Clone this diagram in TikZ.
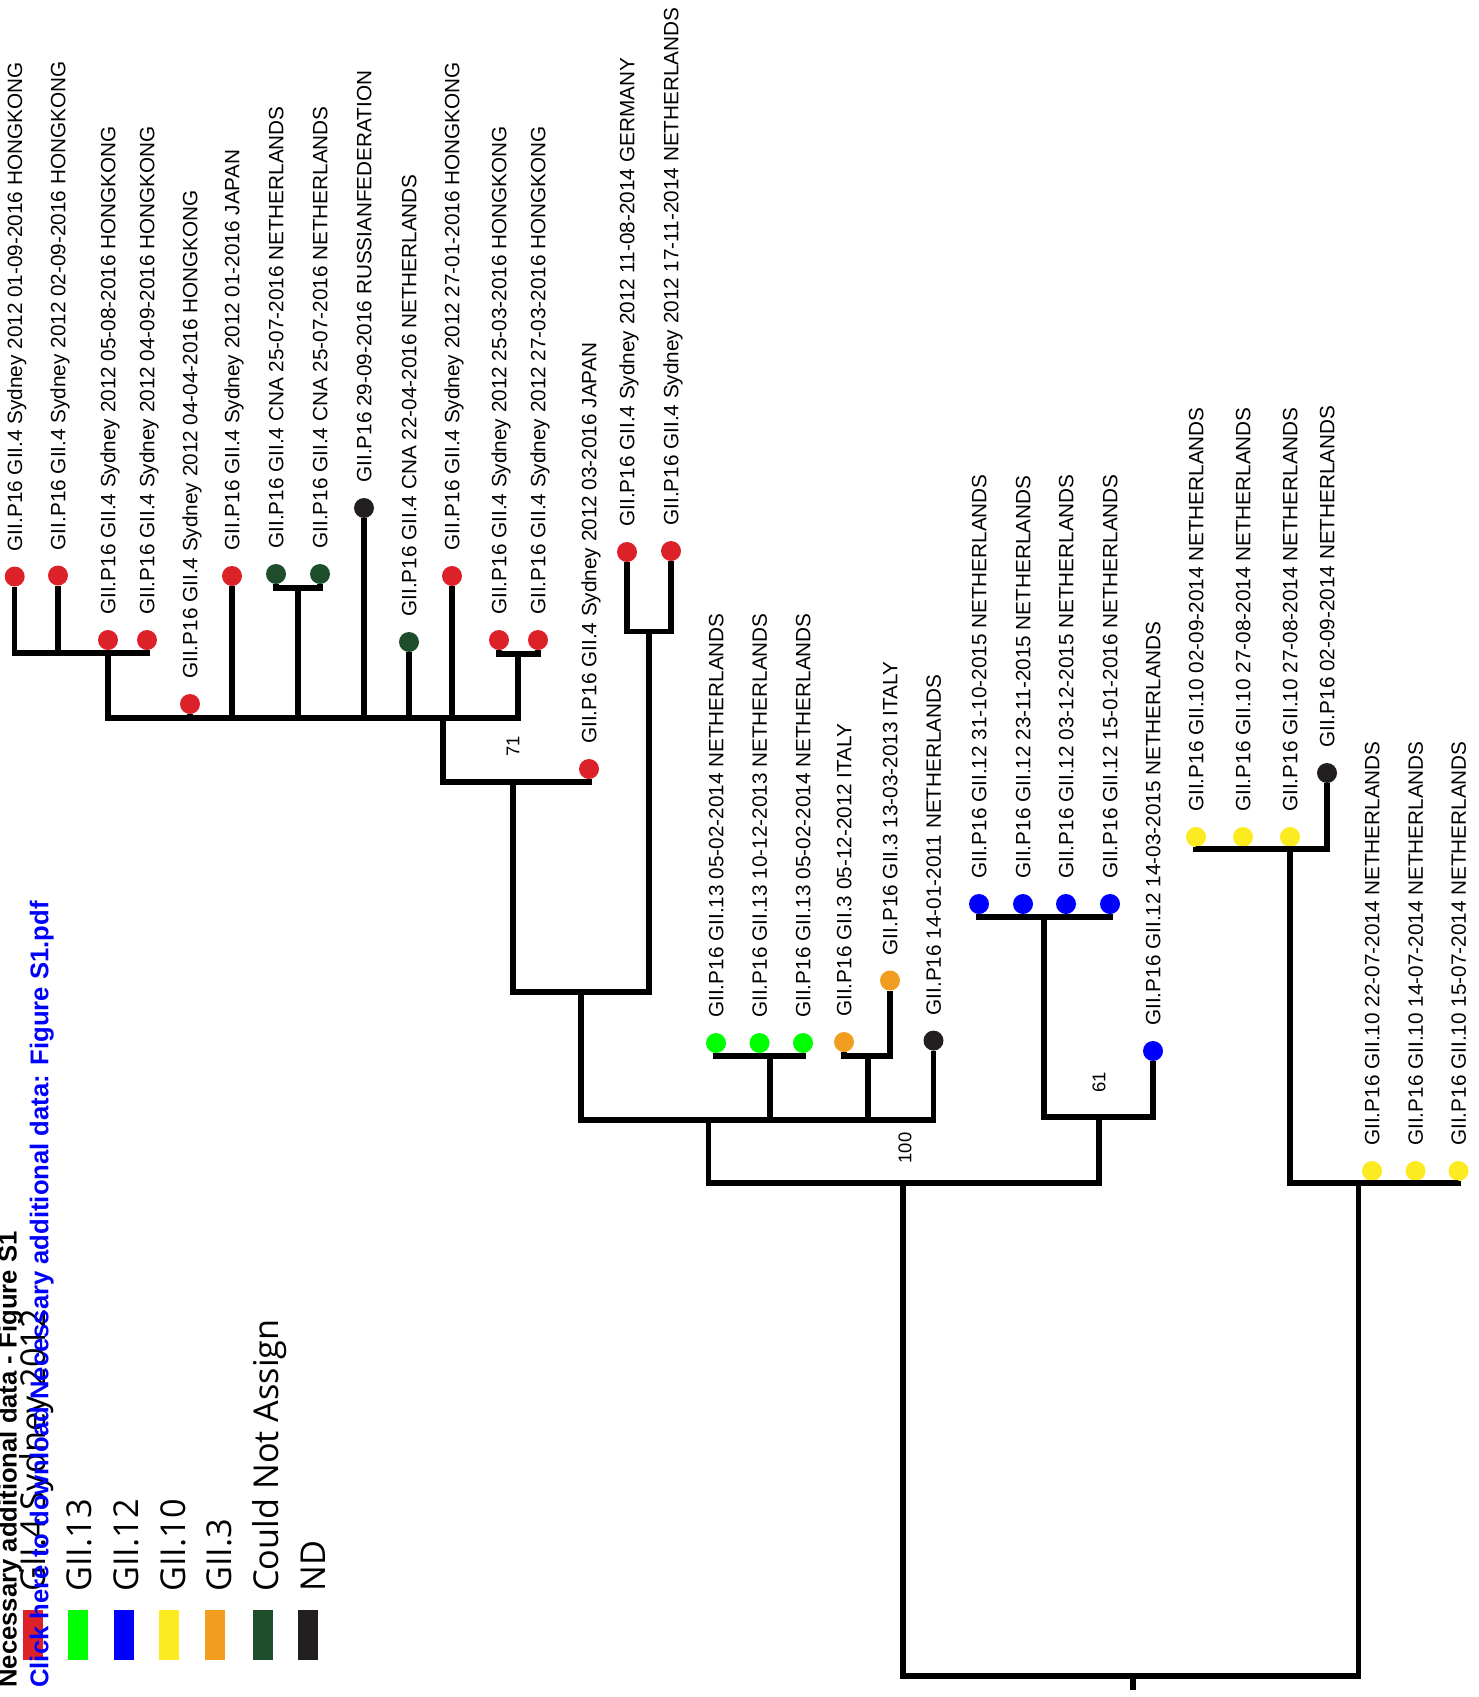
\documentclass[tikz,border=0pt]{standalone}
\usepackage{fontspec}
\setmainfont{Liberation Sans}
\newfontfamily\keyfont{Open Sans}
\usepackage{xcolor}
\usetikzlibrary{calc}

\definecolor{tipred}{RGB}{221,33,40}
\definecolor{tipgreen}{RGB}{0,255,0}
\definecolor{tipblue}{RGB}{0,0,255}
\definecolor{tipyellow}{RGB}{253,235,33}
\definecolor{tiporange}{RGB}{241,158,32}
\definecolor{tipdkgreen}{RGB}{29,77,42}
\definecolor{tipblack}{RGB}{35,31,32}

\tikzset{
    leafdot/.style={circle, inner sep=0pt, minimum size=0.4cm},
    tiplabel/.style={rotate=90, anchor=base west, inner sep=0pt, font=\fontsize{11.8}{13}\selectfont},
    branch/.style={line width=3pt},
    boot/.style={rotate=90, inner sep=0pt, font=\fontsize{10.5}{12}\selectfont},
    keybox/.style={minimum width=0.4cm, minimum height=1cm, inner sep=0pt},
    keylabel/.style={rotate=90, anchor=base west, inner sep=0pt, font=\keyfont\fontsize{19.5}{22}\selectfont}
}

\begin{document}
\begin{tikzpicture}[x=0.02cm, y=-0.02cm]
    \useasboundingbox (0,0) rectangle (1479,1697);
    % tips
    \foreach \x/\y/\c/\t [count=\i] in {
        14.7/576.5/tipred/GII.P16 GII.4 Sydney 2012 01-09-2016 HONGKONG,
        58/575.5/tipred/GII.P16 GII.4 Sydney 2012 02-09-2016 HONGKONG,
        108/640/tipred/GII.P16 GII.4 Sydney 2012 05-08-2016 HONGKONG,
        147/640/tipred/GII.P16 GII.4 Sydney 2012 04-09-2016 HONGKONG,
        190/704/tipred/GII.P16 GII.4 Sydney 2012 04-04-2016 HONGKONG,
        232/576/tipred/GII.P16 GII.4 Sydney 2012 01-2016 JAPAN,
        276/574/tipdkgreen/GII.P16 GII.4 CNA 25-07-2016 NETHERLANDS,
        320/574/tipdkgreen/GII.P16 GII.4 CNA 25-07-2016 NETHERLANDS,
        364/508/tipblack/GII.P16 29-09-2016 RUSSIANFEDERATION,
        409/642/tipdkgreen/GII.P16 GII.4 CNA 22-04-2016 NETHERLANDS,
        452/576/tipred/GII.P16 GII.4 Sydney 2012 27-01-2016 HONGKONG,
        499/640/tipred/GII.P16 GII.4 Sydney 2012 25-03-2016 HONGKONG,
        538/640/tipred/GII.P16 GII.4 Sydney 2012 27-03-2016 HONGKONG,
        589/769/tipred/GII.P16 GII.4 Sydney 2012 03-2016 JAPAN,
        627/552/tipred/GII.P16 GII.4 Sydney 2012 11-08-2014 GERMANY,
        671/551/tipred/GII.P16 GII.4 Sydney 2012 17-11-2014 NETHERLANDS,
        716/1043/tipgreen/GII.P16 GII.13 05-02-2014 NETHERLANDS,
        759.5/1043/tipgreen/GII.P16 GII.13 10-12-2013 NETHERLANDS,
        803/1043/tipgreen/GII.P16 GII.13 05-02-2014 NETHERLANDS,
        844/1042/tiporange/GII.P16 GII.3 05-12-2012 ITALY,
        890/980.5/tiporange/GII.P16 GII.3 13-03-2013 ITALY,
        933.5/1040.6/tipblack/GII.P16 14-01-2011 NETHERLANDS,
        979/904/tipblue/GII.P16 GII.12 31-10-2015 NETHERLANDS,
        1023/904/tipblue/GII.P16 GII.12 23-11-2015 NETHERLANDS,
        1066/904/tipblue/GII.P16 GII.12 03-12-2015 NETHERLANDS,
        1110/904/tipblue/GII.P16 GII.12 15-01-2016 NETHERLANDS,
        1153/1051/tipblue/GII.P16 GII.12 14-03-2015 NETHERLANDS,
        1196/837/tipyellow/GII.P16 GII.10 02-09-2014 NETHERLANDS,
        1243/837/tipyellow/GII.P16 GII.10 27-08-2014 NETHERLANDS,
        1290/837/tipyellow/GII.P16 GII.10 27-08-2014 NETHERLANDS,
        1327/773/tipblack/GII.P16 02-09-2014 NETHERLANDS,
        1372/1171/tipyellow/GII.P16 GII.10 22-07-2014 NETHERLANDS,
        1415.5/1171/tipyellow/GII.P16 GII.10 14-07-2014 NETHERLANDS,
        1458.5/1171/tipyellow/GII.P16 GII.10 15-07-2014 NETHERLANDS}{
        \node[leafdot, fill=\c] (L\i) at (\x,\y) {};
        \node[tiplabel] (T\i) at ($(L\i)+(7.3,-25)$) {\t};
    }
    % internal nodes
    \coordinate (nA) at (108,653);
    \coordinate (nB) at (298,588);
    \coordinate (nC) at (518,654);
    \coordinate (nD) at (443,718);
    \coordinate (n71) at (513,782);
    \coordinate (nE) at (649,631.5);
    \coordinate (nF) at (581,992);
    \coordinate (n13) at (770,1056);
    \coordinate (n3) at (868,1056);
    \coordinate (nG) at (708.6,1120);
    \coordinate (n12) at (1044,917);
    \coordinate (n61) at (1099,1117);
    \coordinate (n100) at (903,1183);
    \coordinate (nH) at (1290,849);
    \coordinate (nI) at (1358.6,1183);
    \coordinate (root) at (1133,1676);
    \coordinate (stub) at (1133,1690);
    % branches
    \foreach \p/\c in {nA/L1.south, nA/L2.south, nA/L3.south, nA/L4.south,
        nB/L7.south, nB/L8.south, nC/L12.south, nC/L13.south,
        nD/nA, nD/L5.south, nD/L6.south, nD/nB, nD/L9.south, nD/L10.south, nD/L11.south, nD/nC,
        n71/nD, n71/L14.south, nE/L15.south, nE/L16.south, nF/n71, nF/nE,
        n13/L17.south, n13/L18.south, n13/L19.south, n3/L20.south, n3/L21.south,
        nG/nF, nG/n13, nG/n3, nG/L22.south,
        n12/L23.south, n12/L24.south, n12/L25.south, n12/L26.south, n61/n12, n61/L27.south,
        n100/nG, n100/n61,
        nH/L28.south, nH/L29.south, nH/L30.south, nH/L31.south,
        nI/nH, nI/L32.south, nI/L33.south, nI/L34.south,
        root/n100, root/nI}
        \draw[branch] (\p) -| (\c);
    \draw[branch] (root) -- (stub);
    % bootstrap values
    \node[boot] (b71) at ($(n71)+(0,-36)$) {71};
    \node[boot] (b100) at ($(n100)+(2,-35)$) {100};
    \node[boot] (b61) at ($(n61)+(0,-35)$) {61};
    % legend
    \node[keybox, fill=tipred] (kred) at (32.7,1635) {};
    \node[keybox, fill=tipgreen] (kgreen) at (78,1635) {};
    \node[keybox, fill=tipblue] (kblue) at (124,1635) {};
    \node[keybox, fill=tipyellow] (kyellow) at (169,1635) {};
    \node[keybox, fill=tiporange] (korange) at (215,1635) {};
    \node[keybox, fill=tipdkgreen] (kdkgreen) at (263,1635) {};
    \node[keybox, fill=tipblack] (kblack) at (308,1635) {};
    \node[keylabel] (lred) at (45,1592) {GII.4 Sydney 2012};
    \node[keylabel] (lgreen) at (91.7,1592) {GII.13};
    \node[keylabel] (lblue) at (138.3,1592) {GII.12};
    \node[keylabel] (lyellow) at (185,1592) {GII.10};
    \node[keylabel] (lorange) at (231.7,1592) {GII.3};
    \node[keylabel] (ldkgreen) at (278,1592) {Could Not Assign};
    \node[keylabel] (lblack) at (325,1592) {ND};
    % header
    \node[rotate=90, anchor=base west, inner sep=0pt, font=\bfseries\fontsize{14.6}{17}\selectfont] (title) at (16.7,1688) {Necessary additional data - Figure S1};
    \node[rotate=90, anchor=base west, inner sep=0pt, text=blue, font=\bfseries\fontsize{14.6}{17}\selectfont] (dl) at (48.3,1688) {Click here to download Necessary additional data: Figure S1.pdf};
\end{tikzpicture}
\end{document}
